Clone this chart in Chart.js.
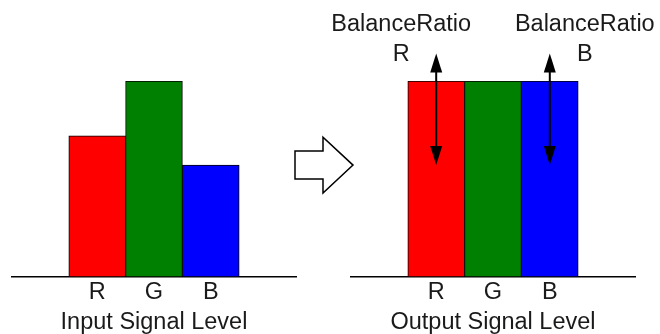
<!DOCTYPE html>
<html lang="en">
<head>
<meta charset="UTF-8">
<title>White Balance - Input / Output Signal Level</title>
<script src="https://cdn.jsdelivr.net/npm/chart.js"></script>
<style>
    body { margin: 0; background: #fff; }
    .wrap { position: relative; width: 660px; height: 334px; overflow: hidden; }
    canvas { position: absolute; top: 0; }
    #inputChart { left: 0; }
    #outputChart { left: 280px; }
</style>
</head>
<body>
<div class="wrap">
    <canvas id="inputChart" width="330" height="334"></canvas>
    <canvas id="outputChart" width="380" height="334"></canvas>
</div>
<script>
const channels = ['R', 'G', 'B'];
const channelColors = ['#ff0000', '#008000', '#0000ff'];
const inputLevels = [72, 100, 57];
const outputLevels = [100, 100, 100];
const levelMax = 100;
// BalanceRatio arrows run between these two levels, on the R and B bars
const ratioArrowRange = [57, 114];
const ratioChannels = ['R', 'B'];

const FONT = "'Liberation Sans', Arial, sans-serif";
const FONT_SIZE = 23.5;
const INK = '#1a1a1a';

// one empty slot on each side keeps the bars packed in the middle of the baseline
const pad = arr => [null, ...arr, null];
const padLabels = ['', ...channels, ''];

function barConfig(values, title, padding, plugins) {
    return {
        type: 'bar',
        data: {
            labels: padLabels,
            datasets: [{
                data: pad(values),
                backgroundColor: pad(channelColors),
                borderColor: '#000',
                borderWidth: 1,
                borderSkipped: 'bottom',
                categoryPercentage: 1,
                barPercentage: 1
            }]
        },
        options: {
            responsive: false,
            animation: false,
            devicePixelRatio: 1,
            layout: { padding: padding },
            plugins: { legend: { display: false }, tooltip: { enabled: false } },
            scales: {
                x: {
                    grid: { display: false, drawTicks: false },
                    border: { display: true, color: '#000', width: 1.5 },
                    ticks: {
                        autoSkip: false, maxRotation: 0, padding: 2,
                        color: INK, font: { family: FONT, size: FONT_SIZE, lineHeight: 1.2 }
                    },
                    title: {
                        display: true, text: title, color: INK,
                        padding: { top: 0, bottom: 0 },
                        font: { family: FONT, size: FONT_SIZE, lineHeight: 1.2 }
                    }
                },
                y: { display: false, min: 0, max: levelMax }
            }
        },
        plugins: plugins
    };
}

function arrowHead(ctx, x, y, dir) {
    ctx.beginPath();
    ctx.moveTo(x, y);
    ctx.lineTo(x - 6, y - dir * 19);
    ctx.lineTo(x + 6, y - dir * 19);
    ctx.closePath();
    ctx.fill();
}

const balancePlugin = {
    id: 'balanceRatio',
    afterDraw(chart) {
        const { ctx, scales: { x, y } } = chart;
        ctx.save();
        ctx.fillStyle = '#000';
        ctx.strokeStyle = '#000';
        ctx.lineWidth = 2;
        ratioChannels.forEach((ch, i) => {
            const cx = x.getPixelForValue(padLabels.indexOf(ch));
            const yLow = y.getPixelForValue(ratioArrowRange[0]);
            const yHigh = y.getPixelForValue(ratioArrowRange[1]);
            ctx.beginPath();
            ctx.moveTo(cx, yHigh + 10);
            ctx.lineTo(cx, yLow - 10);
            ctx.stroke();
            arrowHead(ctx, cx, yHigh, -1);
            arrowHead(ctx, cx, yLow, 1);

            const tx = cx + (i === 0 ? -35 : 35);
            ctx.fillStyle = INK;
            ctx.font = FONT_SIZE + 'px ' + FONT;
            ctx.textAlign = 'center';
            ctx.textBaseline = 'middle';
            ctx.fillText('BalanceRatio', tx, 25);
            ctx.fillText(ch, tx, yHigh + 1);
            ctx.fillStyle = '#000';
        });

        // hollow "becomes" arrow between the two charts
        const cy = y.getPixelForValue(ratioArrowRange[0]);
        const tip = chart.chartArea.left + 2;
        ctx.beginPath();
        ctx.moveTo(tip - 58, cy - 14);
        ctx.lineTo(tip - 30, cy - 14);
        ctx.lineTo(tip - 30, cy - 28);
        ctx.lineTo(tip, cy);
        ctx.lineTo(tip - 30, cy + 28);
        ctx.lineTo(tip - 30, cy + 14);
        ctx.lineTo(tip - 58, cy + 14);
        ctx.closePath();
        ctx.fillStyle = '#fff';
        ctx.fill();
        ctx.lineWidth = 1.5;
        ctx.stroke();
        ctx.restore();
    }
};

new Chart(document.getElementById('inputChart'),
    barConfig(inputLevels, 'Input Signal Level', { left: 12, right: 34, top: 81, bottom: -3 }, []));
new Chart(document.getElementById('outputChart'),
    barConfig(outputLevels, 'Output Signal Level', { left: 71, right: 25, top: 81, bottom: -3 }, [balancePlugin]));
</script>
</body>
</html>
